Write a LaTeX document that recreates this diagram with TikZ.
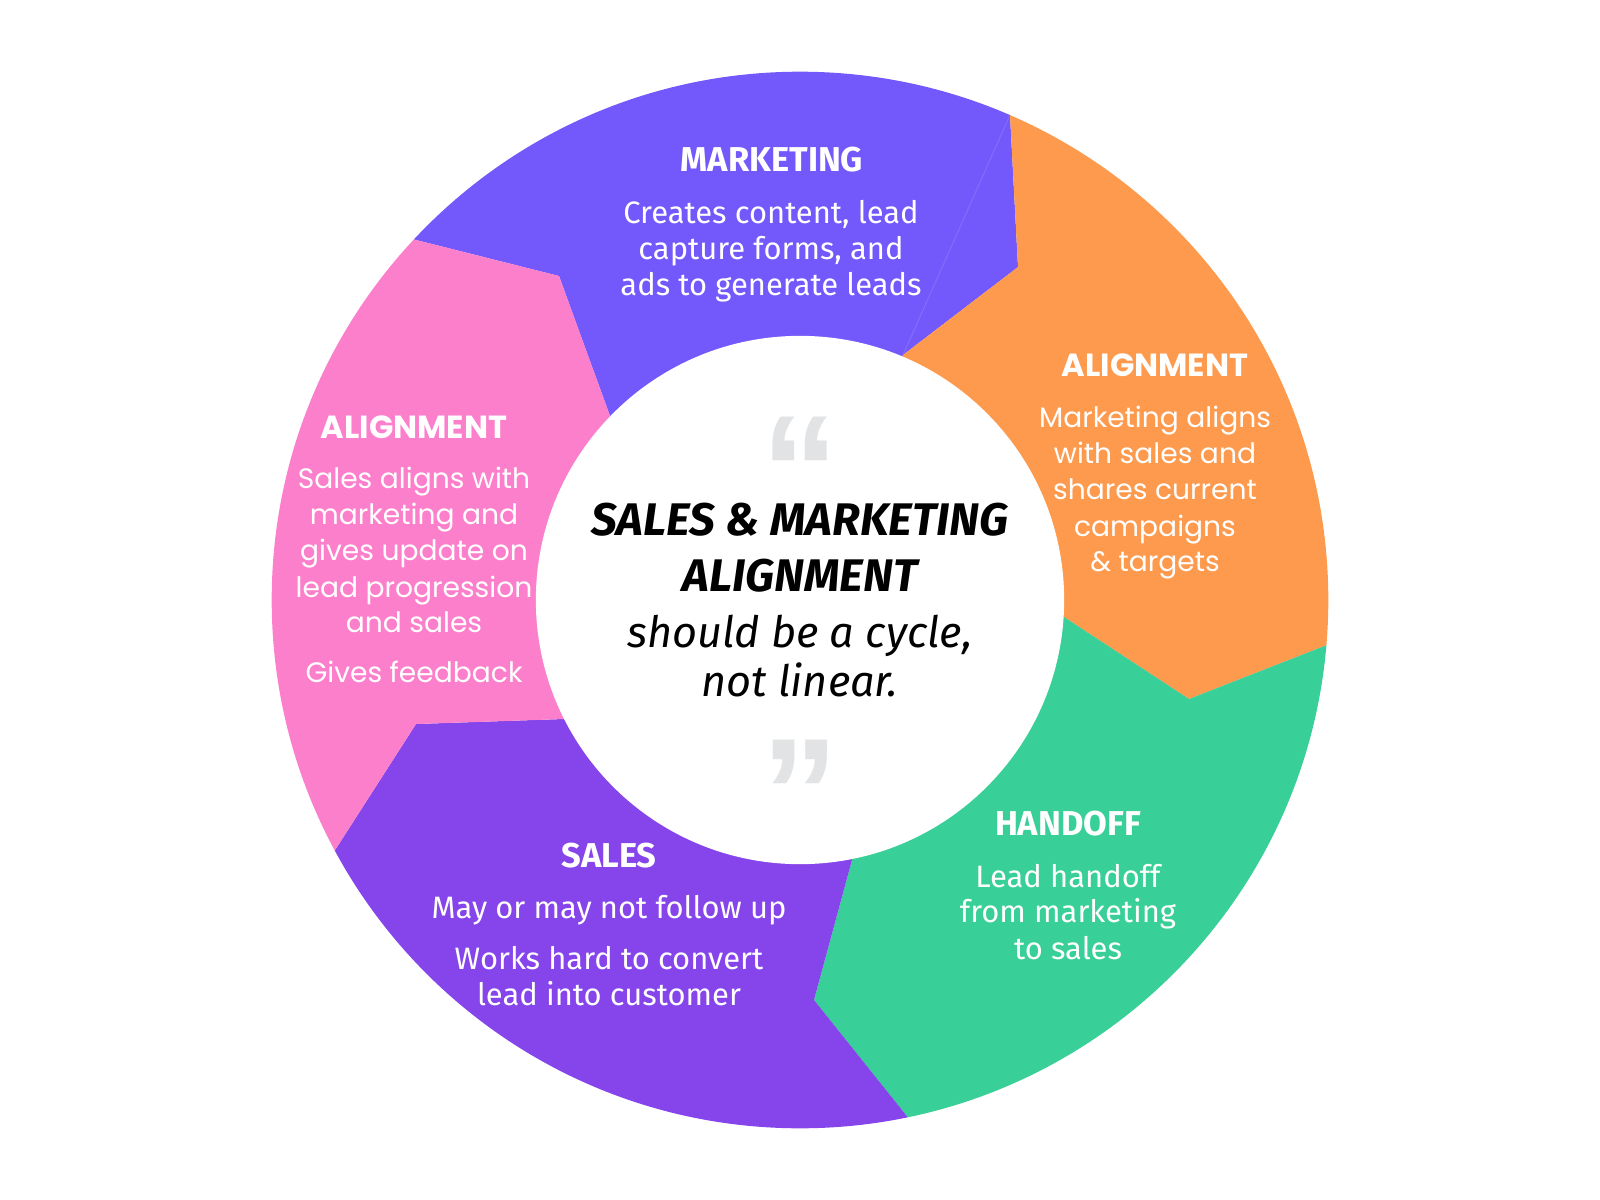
\documentclass[tikz,border=0pt]{standalone}
\usepackage{fontspec}
\setmainfont{Fira Sans}
\newfontfamily\widefont{Poppins}
\newfontfamily\quotefont{Liberation Sans}
\definecolor{mkt}{RGB}{115,88,252}
\definecolor{org}{RGB}{253,154,78}
\definecolor{grn}{RGB}{57,207,152}
\definecolor{sls}{RGB}{134,69,235}
\definecolor{pnk}{RGB}{252,127,204}
\definecolor{qgray}{RGB}{226,227,229}
\begin{document}
\begin{tikzpicture}[x=0.01cm,y=-0.01cm,
  body/.style={font=\fontsize{8.8}{10}\selectfont, text=white, anchor=base, inner sep=0pt},
  head/.style={font=\fontsize{9.8}{11}\selectfont\bfseries, text=white, anchor=base, inner sep=0pt},
  wbody/.style={font=\widefont\fontsize{8.0}{10}\selectfont, text=white, anchor=base, inner sep=0pt},
  whead/.style={font=\widefont\fontsize{9.1}{10}\selectfont\bfseries, text=white, anchor=base, inner sep=0pt},
  ctitle/.style={font=\fontsize{13.0}{15}\selectfont\bfseries\itshape, text=black, anchor=base, inner sep=0pt, text height=9.3pt, text depth=0.5pt},
  csub/.style={font=\fontsize{12.3}{14}\selectfont\itshape, text=black, anchor=base, inner sep=0pt, text height=9pt, text depth=2.6pt},
  qmark/.style={font=\quotefont\fontsize{44}{44}\selectfont\bfseries, text=qgray, anchor=north, inner sep=0pt}
]
\useasboundingbox (0,0) rectangle (1600,1200);
\coordinate (c) at (800,600);
\begin{scope}
  \clip (c) circle [radius=5.28cm];
  % marketing
  \fill[mkt] (c) -- (610,416) -- (559,276) -- (416,240) -- (273,204) -- (273,-150) -- (1002,-150) -- (1002,-37) -- (1010,115) -- (1018,267) -- (903,355) -- cycle;
  % orange alignment
  \fill[org] (c) -- (903,355) -- (1018,267) -- (1010,115) -- (1002,-37) -- (1002,-150) -- (1700,-150) -- (1700,591) -- (1465,591) -- (1327,645) -- (1189,699) -- (1064,617) -- cycle;
  % green handoff
  \fill[grn] (c) -- (1064,617) -- (1189,699) -- (1327,645) -- (1465,591) -- (1700,591) -- (1700,1400) -- (998,1400) -- (998,1230) -- (906,1115) -- (814,1000) -- (852,860) -- cycle;
  % sales
  \fill[sls] (c) -- (852,860) -- (814,1000) -- (906,1115) -- (998,1230) -- (998,1400) -- (100,1400) -- (100,970) -- (258,970) -- (337,847) -- (416,724) -- (564,719) -- cycle;
  % pink alignment
  \fill[pnk] (c) -- (564,719) -- (416,724) -- (337,847) -- (258,970) -- (100,970) -- (100,204) -- (273,204) -- (416,240) -- (559,276) -- (610,416) -- cycle;
  % faint seam
  \draw[mkt!80!white, line width=0.3pt, opacity=0.6] (1010,115) -- (903,355);
\end{scope}
\fill[white] (c) circle [radius=2.64cm];

% marketing
\node[head] (mh) at (772,171) {MARKETING};
\node[body] (m1) at (771,223) {Creates content, lead};
\node[body] (m2) at (771,259) {capture forms, and};
\node[body] (m3) at (771,295) {ads to generate leads};

% right alignment
\node[whead] (rh) at (1155,376) {ALIGNMENT};
\node[wbody] (r1) at (1155,427) {Marketing aligns};
\node[wbody] (r2) at (1155,463) {with sales and};
\node[wbody] (r3) at (1155,499) {shares current};
\node[wbody] (r4) at (1155,536) {campaigns};
\node[wbody] (r5) at (1155,571) {\& targets};

% left alignment
\node[whead] (lh) at (414,438) {ALIGNMENT};
\node[wbody] (l1) at (414,488) {Sales aligns with};
\node[wbody] (l2) at (414,524) {marketing and};
\node[wbody] (l3) at (414,560) {gives update on};
\node[wbody] (l4) at (414,597) {lead progression};
\node[wbody] (l5) at (414,632) {and sales};
\node[wbody] (l6) at (414,682) {Gives feedback};

% handoff
\node[head] (hh) at (1068,835) {HANDOFF};
\node[body] (h1) at (1068,887) {Lead handoff};
\node[body] (h2) at (1068,922) {from marketing};
\node[body] (h3) at (1068,959) {to sales};

% sales
\node[head] (sh) at (609,867) {SALES};
\node[body] (s1) at (609,918) {May or may not follow up};
\node[body] (s2) at (609,969) {Works hard to convert};
\node[body] (s3) at (609,1005) {lead into customer};

% center
\node[qmark] (qo) at (800,416) {“};
\node[ctitle] (t1) at (800,535) {SALES \& MARKETING};
\node[ctitle] (t2) at (800,591) {ALIGNMENT};
\node[csub] (t3) at (800,647) {should be a cycle,};
\node[csub] (t4) at (800,696) {not linear.};
\node[qmark] (qc) at (800,739) {”};
\end{tikzpicture}
\end{document}
